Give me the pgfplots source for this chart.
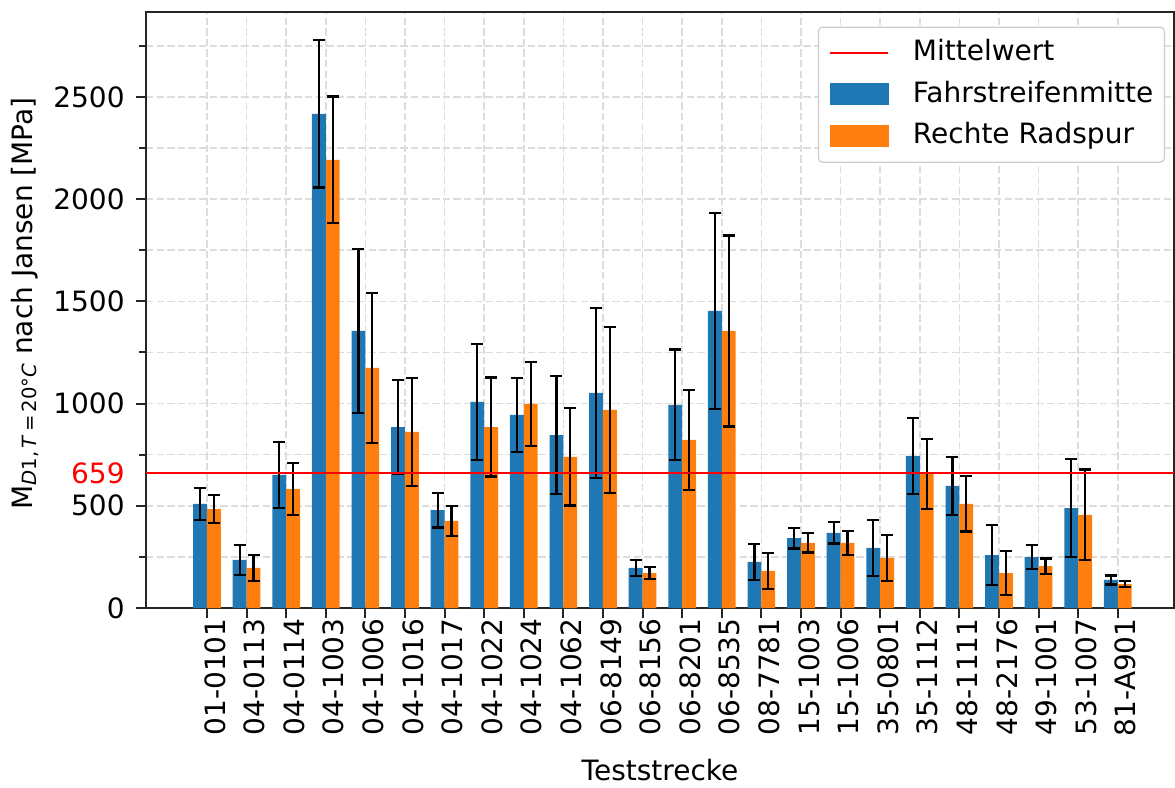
\documentclass[border=0pt]{standalone}
\usepackage{fontspec}
\setmainfont{DejaVu Sans}
\usepackage{pgfplots}
\pgfplotsset{compat=1.18}
\usepackage{pgfplotstable}

\definecolor{fmblue}{HTML}{1F77B4}
\definecolor{rrorange}{HTML}{FF7F0E}
\definecolor{gridgray}{HTML}{DDDDDD}
\definecolor{spine}{HTML}{262626}
\definecolor{legframe}{HTML}{CCCCCC}
\definecolor{meanred}{HTML}{FF0000}

% Mean stiffness modulus per test section, with standard deviation
\pgfplotstableread{
idx fm   fmerr rr   rrerr
0   509  78    484  68
1   235  75    196  63
2   651  161   582  128
3   2417 360   2192 310
4   1355 400   1174 367
5   885  231   861  265
6   479  85    426  73
7   1008 285   885  242
8   944  182   998  206
9   846  288   739  238
10  1052 416   969  407
11  196  39    171  30
12  993  271   822  243
13  1453 480   1355 467
14  225  88    181  89
15  342  51    318  47
16  367  52    318  59
17  294  137   245  114
18  744  185   656  170
19  597  141   509  135
20  259  146   171  107
21  249  58    205  37
22  489  240   455  222
23  137  22    117  16
}\datatable

% overall mean of all measurements
\pgfplotstableread{
x     y
-1.54 659
24.42 659
}\meantable

\pgfplotsset{
  frame/.style={
    at={(0,0)}, anchor=south west,
    scale only axis, width=514pt, height=298pt,
    xmin=-1.54, xmax=24.42, ymin=0, ymax=2915,
    font=\fontsize{14pt}{17pt}\selectfont,
    /pgf/number format/assume math mode=true,
  },
}

\begin{document}
\begin{tikzpicture}
\begin{axis}[
  frame,
  xtick={0,...,23},
  xticklabels={01-0101,04-0113,04-0114,04-1003,04-1006,04-1016,04-1017,04-1022,04-1024,04-1062,06-8149,06-8156,06-8201,06-8535,08-7781,15-1003,15-1006,35-0801,35-1112,48-1111,48-2176,49-1001,53-1007,81-A901},
  ytick={0,500,...,2500},
  minor ytick={250,750,...,2750},
  scaled y ticks=false,
  yticklabel style={/pgf/number format/1000 sep={}},
  grid=both,
  major grid style={gridgray, line width=0.8pt, dash pattern=on 3.7pt off 1.6pt},
  minor grid style={gridgray, line width=0.8pt, dash pattern=on 3.7pt off 1.6pt},
  tick align=outside, xtick pos=bottom, ytick pos=left,
  major tick length=5pt, minor tick length=3.3pt,
  tick style={spine, line width=1pt},
  axis line style={spine, line width=1.25pt},
  xticklabel style={rotate=90, anchor=east, inner sep=0pt, text=black, yshift=-4pt},
  yticklabel style={inner sep=0pt, text=black, xshift=-5.5pt},
  xlabel={Teststrecke},
  xlabel style={at={(axis description cs:0.5,-0.2896)}, anchor=base},
  ylabel={M{\fontsize{9.8pt}{10pt}\selectfont\raisebox{-2pt}{\textit{D}1,\,\textit{T}\,=\,20°\textit{C}}} nach Jansen [MPa]},
  ylabel style={at={(axis description cs:-0.110,0.511)}, anchor=base},
  legend cell align=left,
  legend style={at={(1,1)}, anchor=north east, xshift=-4.5pt, yshift=-7.3pt,
    draw=legframe, line width=0.6pt, rounded corners=2pt, fill=white,
    inner xsep=5.5pt, inner ysep=6.15pt, row sep=7.35pt,
    nodes={inner sep=0pt, text height=10.5pt, text depth=3pt}},
  error bars/error bar style={black, line width=1.1pt},
  error bars/error mark options={rotate=90, black, line width=1.1pt, mark size=3pt},
]
\addlegendimage{legend image code/.code={\draw[meanred, line width=0.8pt] (0pt,0pt) -- (29pt,0pt); \path (41pt,0pt);}}
\addlegendentry{Mittelwert}
\addlegendimage{legend image code/.code={\fill[fmblue, sharp corners] (0pt,-5pt) rectangle (29pt,5.5pt); \path (41pt,0pt);}}
\addlegendentry{Fahrstreifenmitte}
\addlegendimage{legend image code/.code={\fill[rrorange, sharp corners] (0pt,-5pt) rectangle (29pt,5.5pt); \path (41pt,0pt);}}
\addlegendentry{Rechte Radspur}

\addplot[ybar, bar width=0.35, bar shift=0, fill=fmblue, draw=none, forget plot,
  error bars/y dir=both, error bars/y explicit]
  table[x expr=\thisrow{idx}-0.175, y=fm, y error=fmerr]{\datatable};
\addplot[ybar, bar width=0.35, bar shift=0, fill=rrorange, draw=none, forget plot,
  error bars/y dir=both, error bars/y explicit]
  table[x expr=\thisrow{idx}+0.175, y=rr, y error=rrerr]{\datatable};

\addplot[color=meanred, solid, line width=0.8pt, mark=none, forget plot] table[x=x, y=y]{\meantable};
\end{axis}
% label of the mean value on the y axis
\begin{axis}[
  frame,
  axis line style={draw=none},
  xtick=\empty, ytick={659}, yticklabels={659},
  major tick length=5pt, tick align=outside, ytick pos=left,
  major tick style={draw=none},
  yticklabel style={inner sep=0pt, text=meanred, xshift=-5.5pt},
]
\end{axis}
\pgfresetboundingbox
\path[use as bounding box] (-73pt,-90pt) rectangle (514.5pt,304pt);
\end{tikzpicture}
\end{document}
